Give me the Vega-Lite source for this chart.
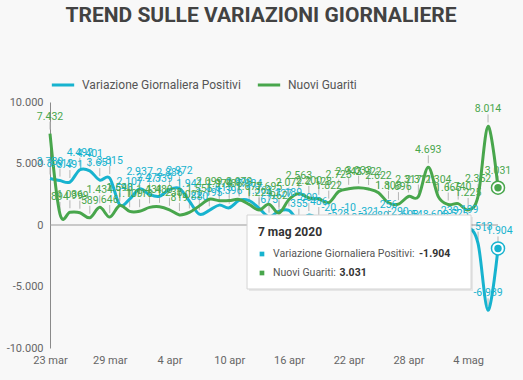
{
  "$schema": "https://vega.github.io/schema/vega-lite/v6.json",
  "width": 448,
  "height": 246,
  "autosize": {"type": "none"},
  "padding": {"left": 50, "top": 102, "right": 25, "bottom": 32},
  "background": "#f8f8f8",
  "title": {
    "text": "TREND SULLE VARIAZIONI GIORNALIERE",
    "font": "Roboto",
    "fontSize": 21,
    "fontWeight": "bold",
    "color": "#424242",
    "anchor": "middle",
    "dx": -13,
    "offset": 46
  },
  "config": {
    "font": "Roboto",
    "view": {"stroke": null},
    "locale": {
      "number": {"decimal": ",", "thousands": ".", "grouping": [3], "currency": ["", " €"], "minus": "-"},
      "time": {
        "dateTime": "%A %e %B %Y, %X",
        "date": "%d/%m/%Y",
        "time": "%H:%M:%S",
        "periods": ["AM", "PM"],
        "days": ["domenica", "lunedì", "martedì", "mercoledì", "giovedì", "venerdì", "sabato"],
        "shortDays": ["dom", "lun", "mar", "mer", "gio", "ven", "sab"],
        "months": ["gennaio", "febbraio", "marzo", "aprile", "maggio", "giugno", "luglio", "agosto", "settembre", "ottobre", "novembre", "dicembre"],
        "shortMonths": ["gen", "feb", "mar", "apr", "mag", "giu", "lug", "ago", "set", "ott", "nov", "dic"]
      }
    },
    "axisX": {
      "domain": false,
      "ticks": false,
      "grid": false,
      "labelFontSize": 11,
      "labelColor": "#666666",
      "labelPadding": 6,
      "labelFlush": false,
      "labelOverlap": false,
      "title": null
    },
    "axisY": {
      "domain": true,
      "domainColor": "#8a8a8a",
      "ticks": false,
      "grid": false,
      "labelFontSize": 11,
      "labelColor": "#666666",
      "labelPadding": 7,
      "labelFlush": false,
      "title": null
    },
    "legend": {
      "orient": "top",
      "title": null,
      "labelFontSize": 12,
      "labelColor": "#555555",
      "symbolType": "stroke",
      "symbolStrokeWidth": 3,
      "symbolSize": 500,
      "columnPadding": 10,
      "labelOffset": 6,
      "offset": 11
    }
  },
  "datasets": {
    "serie": [
      {"data": "2020-03-23T00:00:00", "Variazione Giornaliera Positivi": 3780, "Nuovi Guariti": 7432},
      {"data": "2020-03-24T00:00:00", "Variazione Giornaliera Positivi": 3612, "Nuovi Guariti": 894},
      {"data": "2020-03-25T00:00:00", "Variazione Giornaliera Positivi": 3491, "Nuovi Guariti": 1036},
      {"data": "2020-03-26T00:00:00", "Variazione Giornaliera Positivi": 4492, "Nuovi Guariti": 999},
      {"data": "2020-03-27T00:00:00", "Variazione Giornaliera Positivi": 4401, "Nuovi Guariti": 589},
      {"data": "2020-03-28T00:00:00", "Variazione Giornaliera Positivi": 3651, "Nuovi Guariti": 1434},
      {"data": "2020-03-29T00:00:00", "Variazione Giornaliera Positivi": 3815, "Nuovi Guariti": 646},
      {"data": "2020-03-30T00:00:00", "Variazione Giornaliera Positivi": 1648, "Nuovi Guariti": 1590},
      {"data": "2020-03-31T00:00:00", "Variazione Giornaliera Positivi": 2107, "Nuovi Guariti": 1109},
      {"data": "2020-04-01T00:00:00", "Variazione Giornaliera Positivi": 2937, "Nuovi Guariti": 1118},
      {"data": "2020-04-02T00:00:00", "Variazione Giornaliera Positivi": 2477, "Nuovi Guariti": 1431},
      {"data": "2020-04-03T00:00:00", "Variazione Giornaliera Positivi": 2339, "Nuovi Guariti": 1480},
      {"data": "2020-04-04T00:00:00", "Variazione Giornaliera Positivi": 2886, "Nuovi Guariti": 1238},
      {"data": "2020-04-05T00:00:00", "Variazione Giornaliera Positivi": 2972, "Nuovi Guariti": 819},
      {"data": "2020-04-06T00:00:00", "Variazione Giornaliera Positivi": 1941, "Nuovi Guariti": 1022},
      {"data": "2020-04-07T00:00:00", "Variazione Giornaliera Positivi": 880, "Nuovi Guariti": 1555},
      {"data": "2020-04-08T00:00:00", "Variazione Giornaliera Positivi": 1195, "Nuovi Guariti": 2099},
      {"data": "2020-04-09T00:00:00", "Variazione Giornaliera Positivi": 1615, "Nuovi Guariti": 1979},
      {"data": "2020-04-10T00:00:00", "Variazione Giornaliera Positivi": 1396, "Nuovi Guariti": 1985},
      {"data": "2020-04-11T00:00:00", "Variazione Giornaliera Positivi": 1996, "Nuovi Guariti": 2079},
      {"data": "2020-04-12T00:00:00", "Variazione Giornaliera Positivi": 1984, "Nuovi Guariti": 1677},
      {"data": "2020-04-13T00:00:00", "Variazione Giornaliera Positivi": 1363, "Nuovi Guariti": 1224},
      {"data": "2020-04-14T00:00:00", "Variazione Giornaliera Positivi": 675, "Nuovi Guariti": 1695},
      {"data": "2020-04-15T00:00:00", "Variazione Giornaliera Positivi": 1127, "Nuovi Guariti": 962},
      {"data": "2020-04-16T00:00:00", "Variazione Giornaliera Positivi": 1189, "Nuovi Guariti": 2072},
      {"data": "2020-04-17T00:00:00", "Variazione Giornaliera Positivi": 355, "Nuovi Guariti": 2563},
      {"data": "2020-04-18T00:00:00", "Variazione Giornaliera Positivi": 809, "Nuovi Guariti": 2200},
      {"data": "2020-04-19T00:00:00", "Variazione Giornaliera Positivi": 486, "Nuovi Guariti": 2128},
      {"data": "2020-04-20T00:00:00", "Variazione Giornaliera Positivi": -20, "Nuovi Guariti": 1822},
      {"data": "2020-04-21T00:00:00", "Variazione Giornaliera Positivi": -528, "Nuovi Guariti": 2723},
      {"data": "2020-04-22T00:00:00", "Variazione Giornaliera Positivi": -10, "Nuovi Guariti": 2943},
      {"data": "2020-04-23T00:00:00", "Variazione Giornaliera Positivi": -851, "Nuovi Guariti": 3033},
      {"data": "2020-04-24T00:00:00", "Variazione Giornaliera Positivi": -321, "Nuovi Guariti": 2922},
      {"data": "2020-04-25T00:00:00", "Variazione Giornaliera Positivi": -680, "Nuovi Guariti": 2622},
      {"data": "2020-04-26T00:00:00", "Variazione Giornaliera Positivi": 256, "Nuovi Guariti": 1808},
      {"data": "2020-04-27T00:00:00", "Variazione Giornaliera Positivi": -290, "Nuovi Guariti": 1696},
      {"data": "2020-04-28T00:00:00", "Variazione Giornaliera Positivi": -608, "Nuovi Guariti": 2317},
      {"data": "2020-04-29T00:00:00", "Variazione Giornaliera Positivi": -548, "Nuovi Guariti": 2311},
      {"data": "2020-04-30T00:00:00", "Variazione Giornaliera Positivi": -3106, "Nuovi Guariti": 4693},
      {"data": "2020-05-01T00:00:00", "Variazione Giornaliera Positivi": -608, "Nuovi Guariti": 2304},
      {"data": "2020-05-02T00:00:00", "Variazione Giornaliera Positivi": -239, "Nuovi Guariti": 1665},
      {"data": "2020-05-03T00:00:00", "Variazione Giornaliera Positivi": -525, "Nuovi Guariti": 1740},
      {"data": "2020-05-04T00:00:00", "Variazione Giornaliera Positivi": -199, "Nuovi Guariti": 1225},
      {"data": "2020-05-05T00:00:00", "Variazione Giornaliera Positivi": -1513, "Nuovi Guariti": 2352},
      {"data": "2020-05-06T00:00:00", "Variazione Giornaliera Positivi": -6939, "Nuovi Guariti": 8014},
      {"data": "2020-05-07T00:00:00", "Variazione Giornaliera Positivi": -1904, "Nuovi Guariti": 3031}
    ],
    "evidenza": [
      {"data": "2020-05-07T00:00:00", "serie": "Variazione Giornaliera Positivi", "valore": -1904},
      {"data": "2020-05-07T00:00:00", "serie": "Nuovi Guariti", "valore": 3031}
    ]
  },
  "data": {"name": "serie"},
  "transform": [
    {"fold": ["Variazione Giornaliera Positivi", "Nuovi Guariti"], "as": ["serie", "valore"]}
  ],
  "layer": [
    {
      "data": {"values": [{}]},
      "mark": {"type": "rule", "color": "#9a9a9a", "strokeWidth": 1},
      "encoding": {
        "y": {"datum": 0, "type": "quantitative", "scale": {"domain": [-10000, 10000]}}
      }
    },
    {
      "mark": {"type": "rule", "color": "#b5b5b5", "strokeWidth": 1, "yOffset": -4, "y2Offset": -12},
      "encoding": {
        "x": {"field": "data", "type": "temporal"},
        "y": {"field": "valore", "type": "quantitative"},
        "y2": {"field": "valore"}
      }
    },
    {
      "mark": {"type": "line", "interpolate": "cardinal", "strokeWidth": 3},
      "encoding": {
        "x": {
          "field": "data",
          "type": "temporal",
          "scale": {"domain": [{"year": 2020, "month": 3, "date": 23}, {"year": 2020, "month": 5, "date": 7}]},
          "axis": {
            "format": "%-d %b",
            "values": [
              {"year": 2020, "month": 3, "date": 23},
              {"year": 2020, "month": 3, "date": 29},
              {"year": 2020, "month": 4, "date": 4},
              {"year": 2020, "month": 4, "date": 10},
              {"year": 2020, "month": 4, "date": 16},
              {"year": 2020, "month": 4, "date": 22},
              {"year": 2020, "month": 4, "date": 28},
              {"year": 2020, "month": 5, "date": 4}
            ]
          }
        },
        "y": {
          "field": "valore",
          "type": "quantitative",
          "scale": {"domain": [-10000, 10000]},
          "axis": {"format": ",d", "values": [-10000, -5000, 0, 5000, 10000]}
        },
        "color": {
          "field": "serie",
          "type": "nominal",
          "scale": {"domain": ["Variazione Giornaliera Positivi", "Nuovi Guariti"], "range": ["#17b3cf", "#48a64c"]},
          "legend": {}
        }
      }
    },
    {
      "mark": {"type": "text", "fontSize": 10.5, "dy": -17, "baseline": "middle"},
      "encoding": {
        "x": {"field": "data", "type": "temporal"},
        "y": {"field": "valore", "type": "quantitative"},
        "text": {"field": "valore", "type": "quantitative", "format": ",d"},
        "color": {"field": "serie", "type": "nominal", "legend": null}
      }
    },
    {
      "data": {"values": [{}]},
      "mark": {"type": "rect", "fill": "#000000", "opacity": 0.07, "xOffset": 2, "x2Offset": 2, "yOffset": 2, "y2Offset": 2},
      "encoding": {
        "x": {"datum": {"year": 2020, "month": 4, "date": 11, "hours": 19}, "type": "temporal"},
        "x2": {"datum": {"year": 2020, "month": 5, "date": 4, "hours": 7}},
        "y": {"datum": 813, "type": "quantitative"},
        "y2": {"datum": -5203}
      }
    },
    {
      "data": {"values": [{}]},
      "mark": {"type": "rect", "fill": "#ffffff", "stroke": "#d4d4d4", "strokeWidth": 1},
      "encoding": {
        "x": {"datum": {"year": 2020, "month": 4, "date": 11, "hours": 19}, "type": "temporal"},
        "x2": {"datum": {"year": 2020, "month": 5, "date": 4, "hours": 7}},
        "y": {"datum": 813, "type": "quantitative"},
        "y2": {"datum": -5203}
      }
    },
    {
      "data": {"values": [{}]},
      "mark": {"type": "text", "text": "7 mag 2020", "fontSize": 12, "fontWeight": "bold", "color": "#333333", "align": "left", "baseline": "middle"},
      "encoding": {
        "x": {"datum": {"year": 2020, "month": 4, "date": 12, "hours": 21, "minutes": 20}, "type": "temporal"},
        "y": {"datum": -569, "type": "quantitative"}
      }
    },
    {
      "data": {"values": [{}]},
      "mark": {"type": "point", "shape": "square", "filled": true, "size": 22, "opacity": 1, "color": "#17b3cf"},
      "encoding": {
        "x": {"datum": {"year": 2020, "month": 4, "date": 13, "hours": 7}, "type": "temporal"},
        "y": {"datum": -2358, "type": "quantitative"}
      }
    },
    {
      "data": {"values": [{}]},
      "mark": {"type": "point", "shape": "square", "filled": true, "size": 22, "opacity": 1, "color": "#48a64c"},
      "encoding": {
        "x": {"datum": {"year": 2020, "month": 4, "date": 13, "hours": 7}, "type": "temporal"},
        "y": {"datum": -3902, "type": "quantitative"}
      }
    },
    {
      "data": {"values": [{}]},
      "mark": {"type": "text", "text": "Variazione Giornaliera Positivi:", "fontSize": 10.5, "color": "#555555", "align": "left", "baseline": "middle"},
      "encoding": {
        "x": {"datum": {"year": 2020, "month": 4, "date": 14, "hours": 9, "minutes": 40}, "type": "temporal"},
        "y": {"datum": -2358, "type": "quantitative"}
      }
    },
    {
      "data": {"values": [{}]},
      "mark": {"type": "text", "text": "-1.904", "fontSize": 10.5, "fontWeight": "bold", "color": "#333333", "align": "left", "baseline": "middle"},
      "encoding": {
        "x": {"datum": {"year": 2020, "month": 4, "date": 29, "hours": 1, "minutes": 30}, "type": "temporal"},
        "y": {"datum": -2358, "type": "quantitative"}
      }
    },
    {
      "data": {"values": [{}]},
      "mark": {"type": "text", "text": "Nuovi Guariti:", "fontSize": 10.5, "color": "#555555", "align": "left", "baseline": "middle"},
      "encoding": {
        "x": {"datum": {"year": 2020, "month": 4, "date": 14, "hours": 9, "minutes": 40}, "type": "temporal"},
        "y": {"datum": -3902, "type": "quantitative"}
      }
    },
    {
      "data": {"values": [{}]},
      "mark": {"type": "text", "text": "3.031", "fontSize": 10.5, "fontWeight": "bold", "color": "#333333", "align": "left", "baseline": "middle"},
      "encoding": {
        "x": {"datum": {"year": 2020, "month": 4, "date": 21, "hours": 2}, "type": "temporal"},
        "y": {"datum": -3902, "type": "quantitative"}
      }
    },
    {
      "data": {"name": "evidenza"},
      "mark": {"type": "point", "filled": true, "fill": "#ffffff", "strokeWidth": 1.5, "size": 170, "opacity": 1},
      "encoding": {
        "x": {"field": "data", "type": "temporal"},
        "y": {"field": "valore", "type": "quantitative"},
        "stroke": {"field": "serie", "type": "nominal", "scale": {"domain": ["Variazione Giornaliera Positivi", "Nuovi Guariti"], "range": ["#17b3cf", "#48a64c"]}, "legend": null}
      }
    },
    {
      "data": {"name": "evidenza"},
      "mark": {"type": "point", "filled": true, "size": 55, "opacity": 1},
      "encoding": {
        "x": {"field": "data", "type": "temporal"},
        "y": {"field": "valore", "type": "quantitative"},
        "color": {"field": "serie", "type": "nominal", "legend": null}
      }
    }
  ]
}
